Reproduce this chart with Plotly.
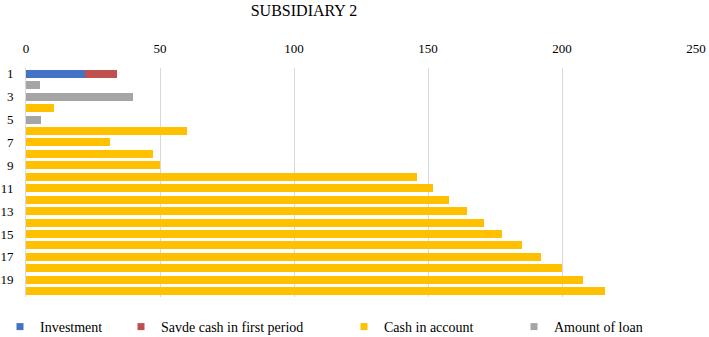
import plotly.graph_objects as go

categories = list(range(1, 21))
investment = [22] + [None] * 19
saved_cash = [12] + [None] * 19
cash_in_account = [None, None, None, 10.5, None, 60, 31.5, 47.5, 50, 146,
                   152, 158, 164.5, 171, 177.5, 185, 192, 200, 208, 216]
amount_of_loan = [None, 5.3, 40, None, 5.5] + [None] * 15
y_tick_labels = [str(i) for i in range(1, 21, 2)]
x_ticks = [0, 50, 100, 150, 200, 250]

FONT = "Liberation Serif"
W, H = 709, 337
series = [
    ("Investment", investment, "#4472C4", "legend", 0.0),
    ("Savde cash in first period", saved_cash, "#C0504D", "legend2", 121 / W),
    ("Cash in account", cash_in_account, "#FFC000", "legend3", 344 / W),
    ("Amount of loan", amount_of_loan, "#A5A5A5", "legend4", 514 / W),
]

fig = go.Figure()
for name, vals, color, lg, _ in series:
    fig.add_trace(go.Bar(
        y=categories, x=vals, orientation="h", name=name,
        marker=dict(color=color, line=dict(width=0)), showlegend=False,
    ))
    fig.add_trace(go.Scatter(
        x=[None], y=[None], mode="markers", name=name, legend=lg,
        marker=dict(symbol="square", size=7, color=color),
    ))

legend_common = dict(
    orientation="h", xref="container", yref="container", y=(H - 327) / H,
    yanchor="middle", xanchor="left", bgcolor="rgba(0,0,0,0)",
    font=dict(family=FONT, size=14, color="#000000"), itemsizing="trace",
    itemwidth=30,
)
legends = {}
for i, (_, _, _, lg, xpos) in enumerate(series):
    legends[lg] = dict(legend_common, x=xpos)

fig.update_layout(
    width=W, height=H,
    barmode="stack", bargap=0.3,
    plot_bgcolor="white", paper_bgcolor="white",
    margin=dict(l=26, r=13, t=68, b=40, autoexpand=False),
    title=dict(text="SUBSIDIARY 2", x=304 / W, xanchor="center",
               y=1 - 10 / H, yanchor="middle",
               pad=dict(t=0, b=0, l=0, r=0),
               font=dict(family=FONT, size=16, color="#000000")),
    font=dict(family=FONT, size=13, color="#000000"),
    xaxis=dict(side="top", range=[0, 250], tickvals=x_ticks,
               ticktext=[str(v) for v in x_ticks], automargin=False,
               gridcolor="#D9D9D9", gridwidth=1, zeroline=False,
               showline=False, ticks="", ticklabelstandoff=11,
               tickfont=dict(family=FONT, size=13, color="#000000")),
    yaxis=dict(range=[20.5, 0.5], tickvals=list(range(1, 21, 2)),
               ticktext=y_tick_labels, showgrid=False, zeroline=False,
               showline=True, linecolor="#D9D9D9", linewidth=1, automargin=False,
               ticks="", ticklabelstandoff=9,
               tickfont=dict(family=FONT, size=13, color="#000000")),
    **legends,
)

fig.write_html("out.html", config={"displayModeBar": False},
               post_script="document.body.style.margin='0';document.body.style.overflow='hidden';")
